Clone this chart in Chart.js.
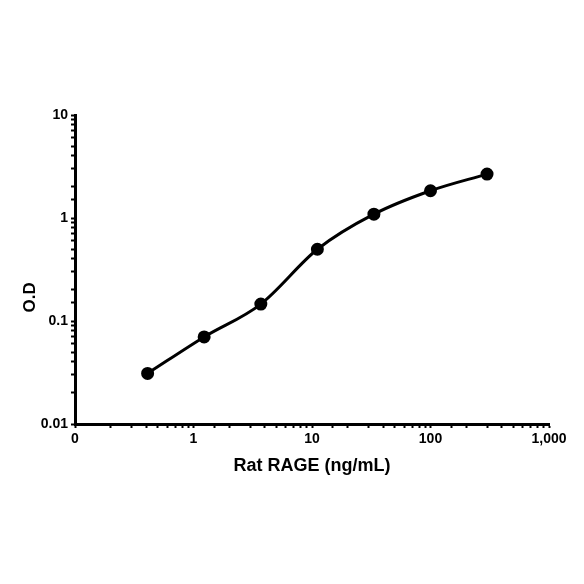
<!DOCTYPE html>
<html>
<head>
<meta charset="utf-8">
<script src="https://cdn.jsdelivr.net/npm/chart.js@4.4.1/dist/chart.umd.min.js"></script>
<style>
    body { margin: 0; background: #fff; }
    #wrap { width: 584px; height: 584px; }
</style>
</head>
<body>
<div id="wrap"><canvas id="odChart" width="584" height="584"></canvas></div>
<script>
// du lieu doc tu hinh
const concentrations = [0.41, 1.23, 3.7, 11.1, 33.3, 100, 300];
const odValues = [0.031, 0.070, 0.146, 0.497, 1.09, 1.84, 2.67];
const xTickValues = [0.1, 1, 10, 100, 1000];
const xTickLabels = ["0", "1", "10", "100", "1,000"];
const yTickValues = [0.01, 0.1, 1, 10];
const yTickLabels = ["0.01", "0.1", "1", "10"];
const yTitle = "O.D";
const xTitle = "Rat RAGE (ng/mL)";

const points = concentrations.map((c, i) => ({ x: c, y: odValues[i] }));
const font = "'Liberation Sans', Arial, sans-serif";

function labelFor(values, labels) {
    return function (value) {
        for (let i = 0; i < values.length; i++) {
            if (Math.abs(value - values[i]) < values[i] * 1e-6) return labels[i];
        }
        return "";
    };
}

// tieu de truc y hoi lech xuong duoi giong hinh goc
const yTitlePlugin = {
    id: "yTitle",
    afterDraw(chart) {
        const c = chart.ctx;
        const area = chart.chartArea;
        c.save();
        c.translate(30, area.top + (area.bottom - area.top) * 0.59);
        c.rotate(-Math.PI / 2);
        c.font = "bold 17px " + font;
        c.fillStyle = "#000";
        c.textAlign = "center";
        c.textBaseline = "middle";
        c.fillText(yTitle, 0, 0);
        c.restore();
    },
};

const ctx = document.getElementById("odChart").getContext("2d");
const odChart = new Chart(ctx, {
    type: "scatter",
    data: {
        datasets: [
            {
                data: points,
                showLine: true,
                borderColor: "#000",
                backgroundColor: "#000",
                borderWidth: 3,
                pointRadius: 5,
                pointBackgroundColor: "#000",
                cubicInterpolationMode: "monotone",
            },
        ],
    },
    options: {
        responsive: false,
        animation: false,
        devicePixelRatio: 1,
        layout: { padding: { left: 0, right: 35, top: 115, bottom: 100 } },
        plugins: { legend: { display: false }, tooltip: { enabled: false } },
        scales: {
            x: {
                type: "logarithmic",
                min: 0.1,
                max: 1000,
                afterFit: (scale) => { scale.height = 60; },
                border: { color: "#000", width: 3 },
                grid: { drawOnChartArea: false, color: "#000", tickLength: 4, tickWidth: 2 },
                ticks: {
                    autoSkip: false,
                    maxRotation: 0,
                    padding: 3,
                    color: "#000",
                    font: { family: font, size: 14, weight: "bold" },
                    callback: labelFor(xTickValues, xTickLabels),
                },
                title: {
                    display: true,
                    text: xTitle,
                    color: "#000",
                    font: { family: font, size: 18, weight: "bold" },
                    padding: { top: 0, bottom: 7 },
                },
            },
            y: {
                type: "logarithmic",
                min: 0.01,
                max: 10,
                afterFit: (scale) => { scale.width = 75; },
                border: { color: "#000", width: 3 },
                grid: { drawOnChartArea: false, color: "#000", tickLength: 4, tickWidth: 2 },
                ticks: {
                    autoSkip: false,
                    padding: 3,
                    color: "#000",
                    font: { family: font, size: 14, weight: "bold" },
                    callback: labelFor(yTickValues, yTickLabels),
                },
            },
        },
    },
    plugins: [yTitlePlugin],
});
</script>
</body>
</html>
